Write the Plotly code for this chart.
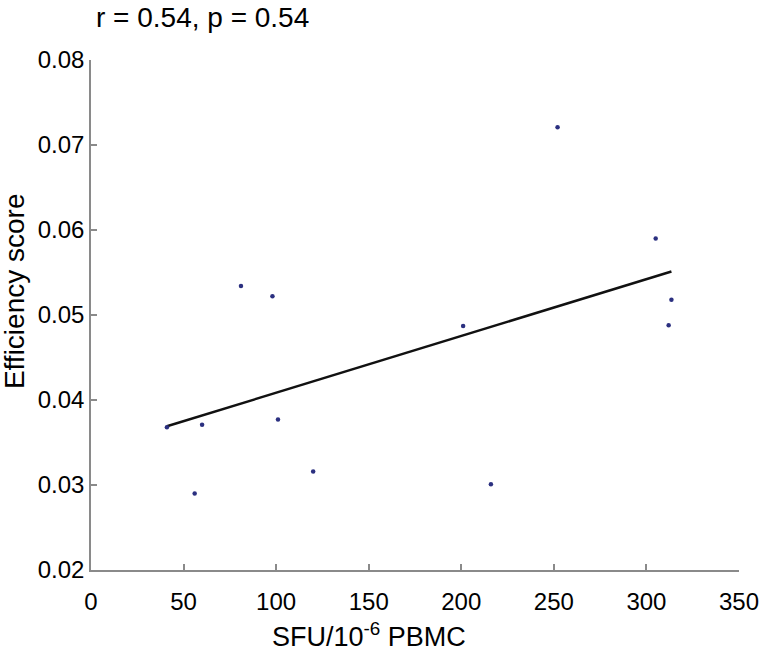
import numpy as np
import plotly.graph_objects as go

# Data
sfu = [41, 56, 60, 81, 98, 101, 120, 201, 216, 252, 305, 312, 313.5]
efficiency = [0.0368, 0.0290, 0.0371, 0.0534, 0.0522, 0.0377, 0.0316,
              0.0487, 0.0301, 0.0721, 0.0590, 0.0488, 0.0518]
x_ticks = [0, 50, 100, 150, 200, 250, 300, 350]
y_ticks = [0.02, 0.03, 0.04, 0.05, 0.06, 0.07, 0.08]
title_text = "r = 0.54, p = 0.54"
x_label = "SFU/10<sup>-6</sup> PBMC"
y_label = "Efficiency score"

# Linear fit over the data range
slope, intercept = np.polyfit(sfu, efficiency, 1)
fit_x = [min(sfu), max(sfu)]
fit_y = [slope * v + intercept for v in fit_x]

FONT = "Liberation Sans, Arial, sans-serif"
AX = "#8a8a8a"

fig = go.Figure()
fig.add_trace(go.Scatter(x=fit_x, y=fit_y, mode="lines",
                         line=dict(color="#111111", width=2.5),
                         showlegend=False, hoverinfo="skip"))
fig.add_trace(go.Scatter(x=sfu, y=efficiency, mode="markers",
                         marker=dict(color="#2b3080", size=4.5),
                         showlegend=False))

fig.update_layout(
    width=768, height=651,
    margin=dict(l=91, r=29, t=60, b=81, autoexpand=False),
    paper_bgcolor="white", plot_bgcolor="white",
    font=dict(family=FONT, color="black", size=24),
    xaxis=dict(range=[0, 350], tickvals=x_ticks, ticktext=[str(v) for v in x_ticks],
               showline=True, linecolor=AX, linewidth=1.5,
               ticks="inside", ticklen=6, tickcolor=AX, tickwidth=1.5,
               showgrid=False, zeroline=False, ticklabelstandoff=9,
               automargin=False, tickfont=dict(size=24)),
    yaxis=dict(range=[0.02, 0.08], tickvals=y_ticks,
               ticktext=[f"{v:.2f}" for v in y_ticks],
               showline=True, linecolor=AX, linewidth=1.5,
               ticks="inside", ticklen=6, tickcolor=AX, tickwidth=1.5,
               showgrid=False, zeroline=False, ticklabelstandoff=0,
               automargin=False, tickfont=dict(size=24)),
    annotations=[
        dict(text=title_text, xref="paper", yref="paper", x=0.004, y=1.084,
             xanchor="left", yanchor="middle", showarrow=False,
             font=dict(size=28)),
        dict(text=x_label, xref="x", yref="paper", x=150, y=-0.128,
             xanchor="center", yanchor="middle", showarrow=False,
             font=dict(size=27)),
        dict(text=y_label, xref="paper", yref="paper", x=-0.118, y=0.546,
             xanchor="center", yanchor="middle", textangle=-90, showarrow=False,
             font=dict(size=28)),
    ],
)

# remove the browser's default 8px body margin so the figure sits at (0, 0)
fig.write_html("out.html", config={"displayModeBar": False},
               post_script="document.body.style.margin='0';")
